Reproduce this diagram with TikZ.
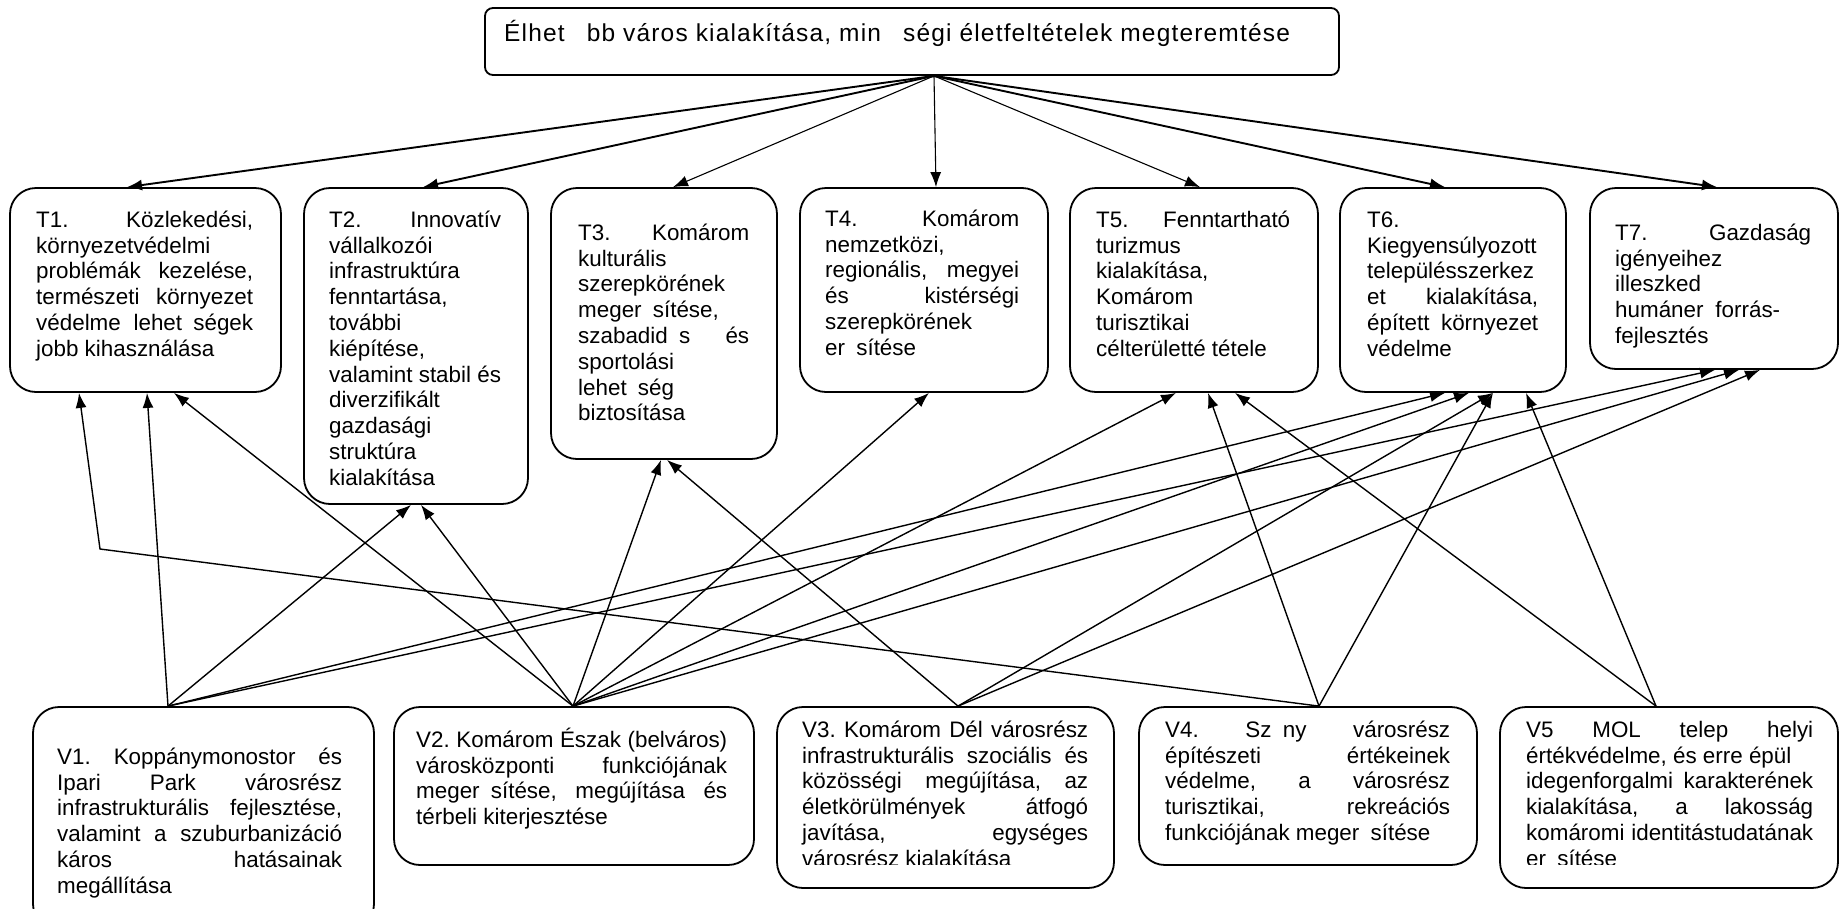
\documentclass[tikz,border=0pt]{standalone}
\usepackage{fontspec}
\usepackage{graphicx}
\setmainfont{Liberation Sans}
\newfontfamily\topfont{Liberation Sans}[LetterSpace=4.8]
\usetikzlibrary{arrows.meta}
\setlength{\parindent}{0pt}
\frenchspacing
\newcommand\jl[1]{\makebox[\hsize][s]{#1}}
\newcommand\gp{\kern0.5em}
\newcommand\tgp{\kern0.9em}
\newcommand\tp{\spaceskip=0pt\xspaceskip=0pt\rule{0pt}{25pt}}
\begin{document}
\begin{tikzpicture}[x=1pt,y=-1pt,
  box/.style={draw, line width=1.8pt, rounded corners=26pt, inner sep=0pt},
  topbox/.style={draw, line width=1.8pt, rounded corners=8pt, inner sep=0pt},
  txt/.style={anchor=north west, inner sep=0pt, align=left, font=\fontsize{22.4}{25.8}\selectfont},
  arr/.style={-{Latex[length=15pt,width=11pt]}, line width=1.4pt},
  arrthin/.style={arr, line width=1.1pt},
  arrthick/.style={arr, line width=1.9pt}]
\useasboundingbox (0,0) rectangle (1842,908);
\clip (0,0) rectangle (1842,908);

% top box
\node[topbox, minimum width=854pt, minimum height=67pt] (top) at (912,41.5) {};
\node[txt, anchor=base west, font=\topfont\fontsize{24.5}{28}\selectfont] (toptx) at (504,41) {\spaceskip=0pt\xspaceskip=0pt Élhet\tgp bb város kialakítása, min\tgp ségi életfeltételek megteremtése};

% T boxes
\node[box, minimum width=271pt, minimum height=204pt] (t1) at (145.5,290) {};
\node[box, minimum width=224pt, minimum height=316pt] (t2) at (416,346) {};
\node[box, minimum width=226pt, minimum height=271pt] (t3) at (664,323.5) {};
\node[box, minimum width=248pt, minimum height=204pt] (t4) at (924,290) {};
\node[box, minimum width=248pt, minimum height=204pt] (t5) at (1194,290) {};
\node[box, minimum width=226pt, minimum height=204pt] (t6) at (1453,290) {};
\node[box, minimum width=248pt, minimum height=181pt] (t7) at (1714,278.5) {};

\node[txt, text width=217pt] (t1x) at (36,202) {\tp\jl{T1. Közlekedési,}\\ környezetvédelmi\\ \jl{problémák kezelése,}\\ \jl{természeti környezet}\\ \jl{védelme lehet\gp ségek}\\ jobb kihasználása};
\node[txt, text width=172pt] (t2x) at (329,202) {\tp\jl{T2. Innovatív}\\ vállalkozói\\ infrastruktúra\\ fenntartása,\\ további\\ kiépítése,\\ valamint stabil és\\ diverzifikált\\ gazdasági\\ struktúra\\ kialakítása};
\node[txt, text width=171pt] (t3x) at (578,215) {\tp\jl{T3. Komárom}\\ kulturális\\ szerepkörének\\ meger\gp sítése,\\ \jl{szabadid\gp s és}\\ sportolási\\ lehet\gp ség\\ biztosítása};
\node[txt, text width=194pt] (t4x) at (825,201) {\tp\jl{T4. Komárom}\\ nemzetközi,\\ \jl{regionális, megyei}\\ \jl{és kistérségi}\\ szerepkörének\\ er\gp sítése};
\node[txt, text width=194pt] (t5x) at (1096,202) {\tp\jl{T5. Fenntartható}\\ turizmus\\ kialakítása,\\ Komárom\\ turisztikai\\ célterületté tétele};
\node[txt, text width=171pt] (t6x) at (1367,202) {\tp T6.\\ Kiegyensúlyozott\\ településszerkez\\ \jl{et kialakítása,}\\ \jl{épített környezet}\\ védelme};
\node[txt, text width=196pt] (t7x) at (1615,215) {\tp\jl{T7. Gazdaság}\\ igényeihez\\ illeszked\\ \makebox[165pt][s]{humáner forrás-}\\ fejlesztés};

% V boxes
\node[box, minimum width=341pt, minimum height=223pt] (v1) at (203.5,818.5) {};
\node[box, minimum width=360pt, minimum height=158pt] (v2) at (574,786) {};
\node[box, minimum width=337pt, minimum height=181pt] (v3) at (945.5,797.5) {};
\node[box, minimum width=338pt, minimum height=158pt] (v4) at (1308,786) {};
\node[box, minimum width=338pt, minimum height=181pt] (v5) at (1669,797.5) {};

\node[txt, text width=285pt] (v1x) at (57,739) {\tp\jl{V1. Koppánymonostor és}\\ \jl{Ipari Park városrész}\\ \jl{infrastrukturális fejlesztése,}\\ \jl{valamint a szuburbanizáció}\\ \jl{káros hatásainak}\\ megállítása};
\node[txt, text width=311pt] (v2x) at (416,722) {\tp\jl{V2. Komárom Észak (belváros)}\\ \jl{városközponti funkciójának}\\ \jl{meger\gp sítése, megújítása és}\\ térbeli kiterjesztése};
\begin{scope}
\clip (777,707) rectangle (1114,864);
\node[txt, text width=286pt] (v3x) at (802,712) {\tp\jl{V3. Komárom Dél városrész}\\ \jl{infrastrukturális szociális és}\\ \jl{közösségi megújítása, az}\\ \jl{életkörülmények átfogó}\\ \jl{javítása, egységes}\\ városrész kialakítása};
\end{scope}
\node[txt, text width=285pt] (v4x) at (1165,712) {\tp\jl{V4. Sz\gp ny városrész}\\ \jl{építészeti értékeinek}\\ \jl{védelme, a városrész}\\ \jl{turisztikai, rekreációs}\\ funkciójának meger\gp sítése};
\begin{scope}
\clip (1500,707) rectangle (1838,864);
\node[txt, text width=287pt] (v5x) at (1526,712) {\tp\jl{V5 MOL telep helyi}\\ értékvédelme, és erre épül\\ \jl{idegenforgalmi karakterének}\\ \jl{kialakítása, a lakosság}\\ \jl{komáromi identitástudatának}\\ er\gp sítése};
\end{scope}

% top arrows
\draw[arrthick] ([xshift=22pt]top.south) -- ([xshift=-18.5pt]t1.north);
\draw[arrthick] ([xshift=22pt]top.south) -- ([xshift=7pt]t2.north);
\draw[arrthin] ([xshift=22pt]top.south) -- ([xshift=9pt]t3.north);
\draw[arrthin] ([xshift=22pt]top.south) -- ([xshift=12pt]t4.north);
\draw[arrthin] ([xshift=22pt]top.south) -- ([xshift=6pt]t5.north);
\draw[arrthick] ([xshift=22pt]top.south) -- ([xshift=-8pt]t6.north);
\draw[arrthick] ([xshift=22pt]top.south) -- ([xshift=3pt]t7.north);

% V1
\draw[arr] ([xshift=-35.5pt]v1.north) -- ([xshift=1.5pt]t1.south);
\draw[arr] ([xshift=-35.5pt]v1.north) -- ([xshift=-5pt]t2.south);
\draw[arr] ([xshift=-35.5pt]v1.north) -- ([xshift=-8pt]t6.south);
\draw[arr] ([xshift=-35.5pt]v1.north) -- ([xshift=1pt]t7.south);
% V2
\draw[arr] ([xshift=-1pt]v2.north) -- ([xshift=28.5pt]t1.south);
\draw[arr] ([xshift=-1pt]v2.north) -- ([xshift=5pt]t2.south);
\draw[arr] ([xshift=-1pt]v2.north) -- ([xshift=-3pt]t3.south);
\draw[arr] ([xshift=-1pt]v2.north) -- ([xshift=5pt]t4.south);
\draw[arr] ([xshift=-1pt]v2.north) -- ([xshift=-18pt]t5.south);
\draw[arr] ([xshift=-1pt]v2.north) -- ([xshift=16pt]t6.south);
\draw[arr] ([xshift=-1pt]v2.north) -- ([xshift=25pt]t7.south);
% V3
\draw[arr] ([xshift=12.5pt]v3.north) -- ([xshift=3pt]t3.south);
\draw[arr] ([xshift=12.5pt]v3.north) -- ([xshift=40pt]t6.south);
\draw[arr] ([xshift=12.5pt]v3.north) -- ([xshift=46pt]t7.south);
% V4
\coordinate (bend) at (100,549);
\draw[arr] ([xshift=11pt]v4.north) -- (bend) -- ([xshift=-66.5pt]t1.south);
\draw[arr] ([xshift=11pt]v4.north) -- ([xshift=14pt]t5.south);
\draw[arr] ([xshift=11pt]v4.north) -- ([xshift=40pt]t6.south);
% V5
\draw[arr] ([xshift=-13pt]v5.north) -- ([xshift=41pt]t5.south);
\draw[arr] ([xshift=-13pt]v5.north) -- ([xshift=73pt]t6.south);
\end{tikzpicture}
\end{document}
